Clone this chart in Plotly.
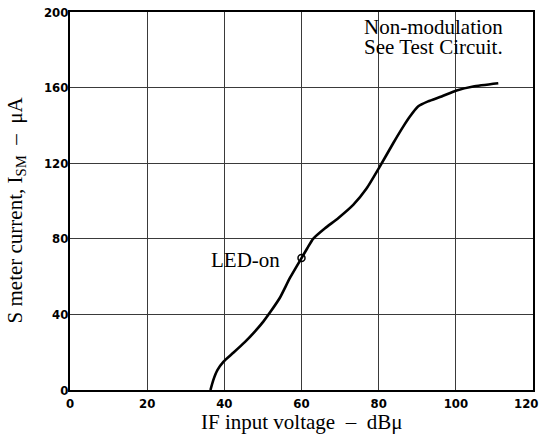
import plotly.graph_objects as go

# Curve (IF input voltage dBμ -> S meter current μA)
if_voltage = [36.4, 37.1, 38.2, 39.8, 42.4, 45.3, 47.9, 50.1, 52.0, 54.4, 57.0, 60.0,
              61.5, 63.0, 66.1, 69.5, 73.4, 76.9, 80.1, 83.8, 86.4, 88.1, 90.2,
              92.8, 96.3, 100.2, 104.5, 111.0]
sm_current = [0, 5, 10.5, 15, 19.8, 25.3, 30.9, 36.2, 41.5, 48.8, 59.3, 69.8,
              75, 80, 85.6, 90.9, 97.9, 106.7, 117.5, 130.7, 139.5, 144.7, 150,
              152.7, 155.3, 158.5, 160.6, 162.3]

led_on_x = [60]
led_on_y = [69.8]

x_ticks = [0, 20, 40, 60, 80, 100, 120]
x_tick_labels = ["0", "20", "40", "60", "80", "100", "120"]
y_ticks = [0, 40, 80, 120, 160, 200]
y_tick_labels = ["0", "40", "80", "120", "160", "200"]

serif = "Liberation Serif, Times New Roman, serif"
tickfont = dict(family="DejaVu Sans Condensed, DejaVu Sans", size=13, color="black", weight="bold")

fig = go.Figure()
fig.add_trace(go.Scatter(x=if_voltage, y=sm_current, mode="lines",
                         line=dict(color="black", width=2.6, shape="spline", smoothing=0.5),
                         hoverinfo="skip", showlegend=False))
fig.add_trace(go.Scatter(x=led_on_x, y=led_on_y, mode="markers",
                         marker=dict(symbol="circle-open", size=7, color="black", line=dict(width=1.5)),
                         showlegend=False))

# last x label (at the right edge) is drawn flush right as an annotation
axis_labels = x_tick_labels[:-1] + [""]

fig.update_xaxes(range=[0, 120], tickvals=x_ticks, ticktext=axis_labels,
                 showgrid=True, gridcolor="#3a3a3a", gridwidth=1, zeroline=False,
                 showline=True, linecolor="black", linewidth=2, mirror=True,
                 ticks="", tickfont=tickfont, ticklabelstandoff=0,
                 ticklabeloverflow="allow", automargin=False)
fig.update_yaxes(range=[0, 200], tickvals=y_ticks, ticktext=y_tick_labels,
                 showgrid=True, gridcolor="#3a3a3a", gridwidth=1, zeroline=False,
                 showline=True, linecolor="black", linewidth=2, mirror=True,
                 ticks="", tickfont=tickfont, ticklabelstandoff=-3,
                 ticklabeloverflow="allow", automargin=False)

anns = [
    dict(text=x_tick_labels[-1], x=x_ticks[-1], y=0, xanchor="right", yanchor="top",
         xshift=7, yshift=-4, showarrow=False, font=tickfont),
    dict(text="S meter current, I<sub>SM</sub>  \u2013  \u03bcA", xref="paper", yref="paper",
         x=0, xshift=-54, y=0.475, textangle=-90, showarrow=False,
         xanchor="center", yanchor="middle", font=dict(family=serif, size=21, color="black")),
    dict(text="IF input voltage  \u2013  dB\u03bc", xref="paper", yref="paper",
         x=0.5, y=0, yshift=-32, showarrow=False, xanchor="center", yanchor="middle",
         font=dict(family=serif, size=21, color="black")),
    dict(text="Non-modulation", x=75.6, y=192.2, xanchor="left", yanchor="middle",
         showarrow=False, font=dict(family=serif, size=21, color="black")),
    dict(text="See Test Circuit.", x=75.6, y=181.6, xanchor="left", yanchor="middle",
         showarrow=False, font=dict(family=serif, size=21, color="black")),
    dict(text="LED-on", x=led_on_x[0], y=led_on_y[0], xanchor="right", yanchor="middle",
         xshift=-20, yshift=-2, showarrow=False, font=dict(family=serif, size=21, color="black")),
]

fig.update_layout(width=540, height=434, margin=dict(l=70, r=7, t=12, b=44, autoexpand=False),
                  plot_bgcolor="white", paper_bgcolor="white", annotations=anns,
                  showlegend=False)

fig.write_html("out.html", config={"displayModeBar": False},
               post_script="document.body.style.margin='0';document.body.style.overflow='hidden';")
